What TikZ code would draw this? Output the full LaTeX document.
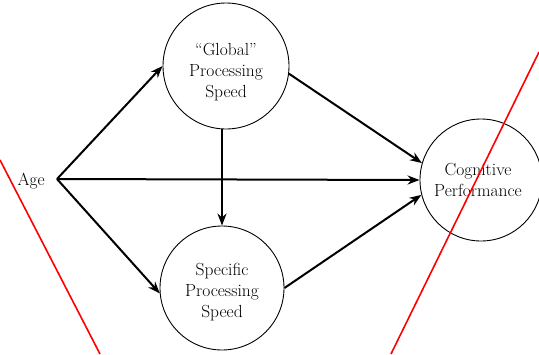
\documentclass[tikz,border=0pt]{standalone}
\usepackage{fontspec}
\usetikzlibrary{arrows.meta}
\begin{document}
\begin{tikzpicture}[x=1pt,y=-1pt,
  txt/.style={font=\fontsize{17.5}{21}\selectfont,align=center,inner sep=0pt},
  circ/.style={draw,circle,line width=0.9pt,inner sep=0pt},
  arr/.style={line width=2pt,-{Stealth[length=12pt,width=9pt]}},
  redline/.style={red,line width=1.6pt}]
\useasboundingbox (0,0) rectangle (539,354);
\node[circ,minimum size=126pt] (g) at (226,66) {};
\node[circ,minimum size=124pt] (s) at (222,288) {};
\node[circ,minimum size=122pt] (c) at (481,180) {};
\node[txt] (gt) at (226,72) {``Global''\\Processing\\Speed};
\node[txt] (st) at (222,292) {Specific\\Processing\\Speed};
\node[txt] (ct) at (478,180) {Cognitive\\Performance};
\node[txt,anchor=east] (agetext) at (45,181) {Age};
\coordinate (age) at (57,179);
\coordinate (gs) at (s.north |- g.south);
\draw[arr] (age) -- (g.west);
\draw[arr] (age) -- (s.185);
\draw[arr] (age) -- (c.west);
\draw[arr] (gs) -- (s.north);
\draw[arr] (g.-7) -- (c.164);
\draw[arr] (s.east) -- (c.194);
\coordinate (r1a) at (0,160);
\coordinate (r1b) at (100,354);
\coordinate (r2a) at (539,52);
\coordinate (r2b) at (391,354);
\draw[redline] (r1a) -- (r1b);
\draw[redline] (r2a) -- (r2b);
\end{tikzpicture}
\end{document}
